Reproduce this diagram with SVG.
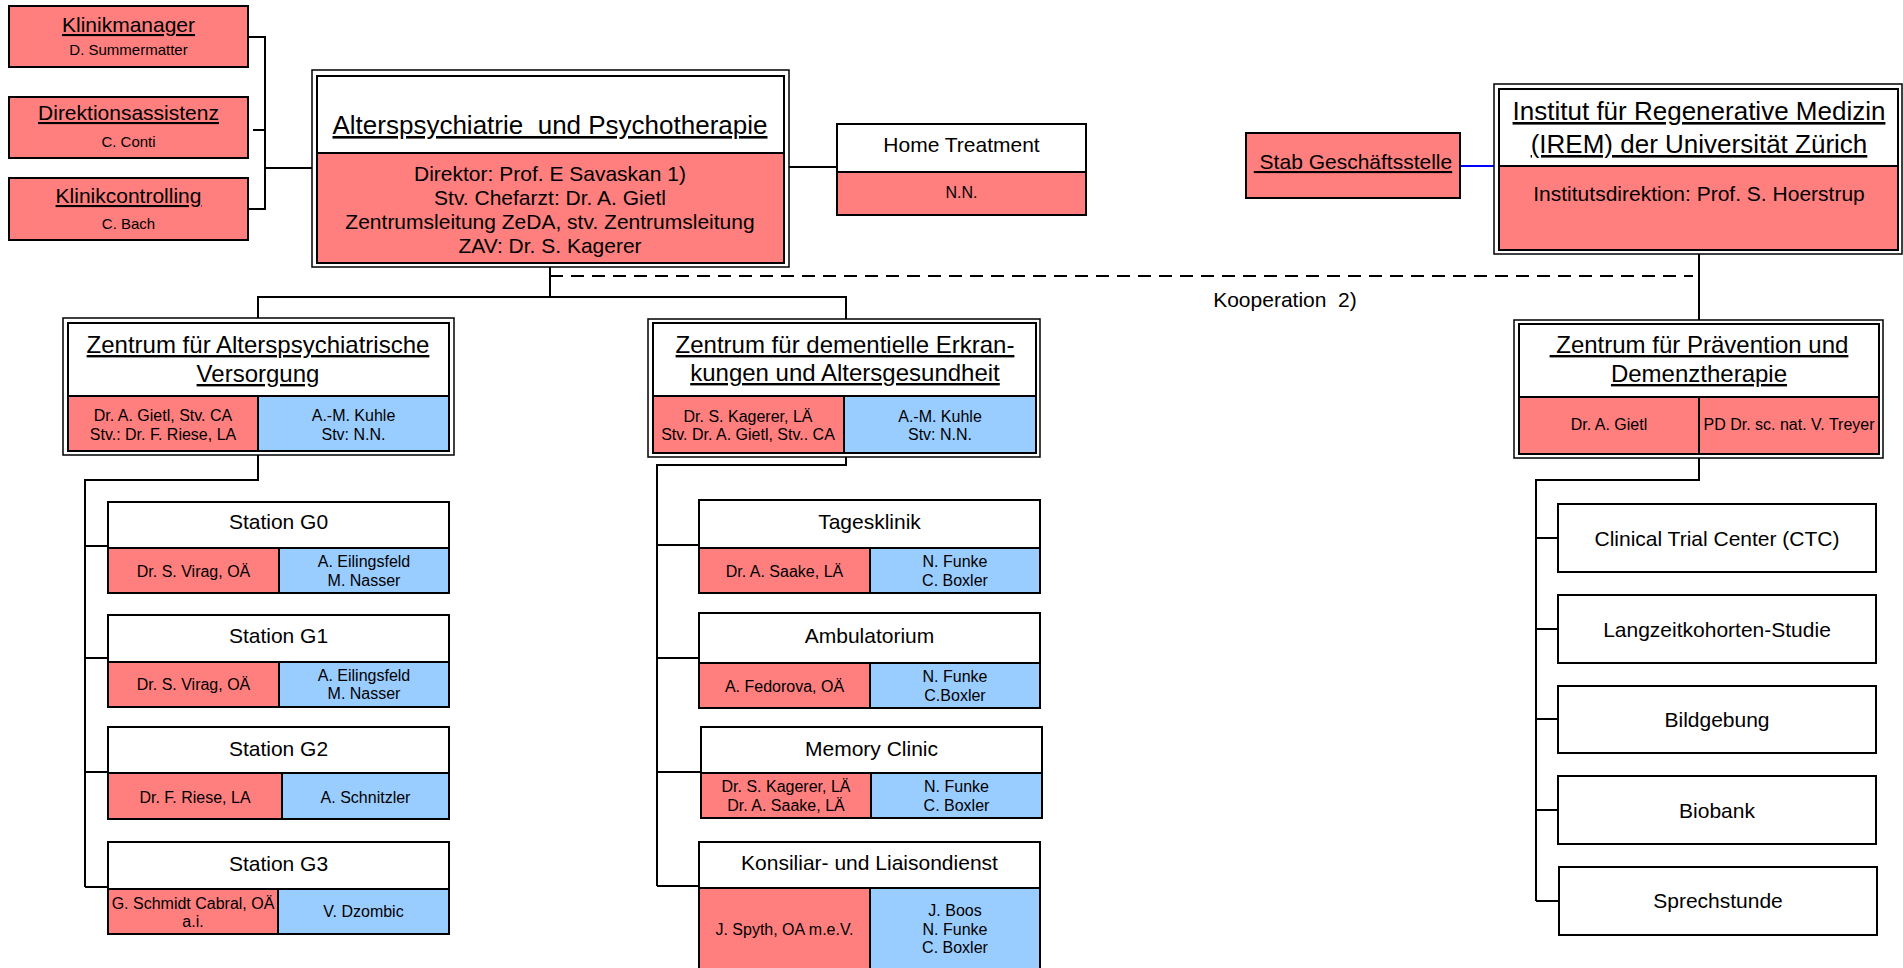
<svg xmlns="http://www.w3.org/2000/svg" width="1903" height="968" viewBox="0 0 1903 968">
<style>
.b{stroke:#000;stroke-width:2}
.r{fill:#FF7F7F}
.bl{fill:#99CCFF}
.w{fill:#fff}
.o{fill:#fff;stroke:#000;stroke-width:1.5}
text{font-family:"Liberation Sans",Arial,sans-serif;fill:#000;text-anchor:middle}
.u{text-decoration:underline}
.f26{font-size:26px}.f24{font-size:24px}.f21{font-size:21px}.f16{font-size:16px}.f15{font-size:15px}
.c{stroke:#000;stroke-width:2;fill:none}
</style>
<rect width="1903" height="968" fill="#fff"/>
<g id="connectors">
<path class="c" d="M248 37H265V209H248M253 130H265M265 168H312"/>
<path class="c" d="M789 167H837"/>
<path class="c" d="M550 267V297M258 318V297H846V319"/>
<path class="c" d="M550 276H1693" stroke-dasharray="13 8"/>
<path d="M1460 166H1494" stroke="#0000FF" stroke-width="2"/>
<path class="c" d="M1699 254V320"/>
<path class="c" d="M258 455V480H85V887M85 546H108M85 658H108M85 772H108M85 887H108"/>
<path class="c" d="M846 457V465H657V886M657 545H699M657 658H699M657 772H701M657 886H699"/>
<path class="c" d="M1699 458V480H1536V901M1536 538H1558M1536 629H1558M1536 719H1558M1536 810H1558M1536 901H1558"/>
</g>
<g id="klinikmanager">
<rect class="b r" x="9" y="6" width="239" height="61"/>
<text class="f21 u" x="128.5" y="32">Klinikmanager</text>
<text class="f15" x="128.5" y="55">D. Summermatter</text>
</g>
<g id="direktionsassistenz">
<rect class="b r" x="9" y="97" width="239" height="61"/>
<text class="f21 u" x="128.5" y="120">Direktionsassistenz</text>
<text class="f15" x="128.5" y="147">C. Conti</text>
</g>
<g id="klinikcontrolling">
<rect class="b r" x="9" y="178" width="239" height="62"/>
<text class="f21 u" x="128.5" y="203">Klinikcontrolling</text>
<text class="f15" x="128.5" y="229">C. Bach</text>
</g>
<g id="main">
<rect class="o" x="312" y="70" width="477" height="197"/>
<rect class="b w" x="317" y="76" width="467" height="77"/>
<rect class="b r" x="317" y="153" width="467" height="110"/>
<text class="f26 u" x="550" y="134" xml:space="preserve">Alterspsychiatrie  und Psychotherapie</text>
<text class="f21" x="550" y="181">Direktor: Prof. E Savaskan 1)</text>
<text class="f21" x="550" y="205">Stv. Chefarzt: Dr. A. Gietl</text>
<text class="f21" x="550" y="229">Zentrumsleitung ZeDA, stv. Zentrumsleitung</text>
<text class="f21" x="550" y="253">ZAV: Dr. S. Kagerer</text>
</g>
<g id="home-treatment">
<rect class="b w" x="837" y="124" width="249" height="48"/>
<rect class="b r" x="837" y="172" width="249" height="43"/>
<text class="f21" x="961.5" y="152">Home Treatment</text>
<text class="f16" x="961.5" y="198">N.N.</text>
</g>
<g id="stab">
<rect class="b r" x="1246" y="133" width="214" height="65"/>
<text class="f21 u" x="1353" y="169" xml:space="preserve"> Stab Geschäftsstelle</text>
</g>
<g id="irem">
<rect class="o" x="1494" y="84" width="408" height="170"/>
<rect class="b w" x="1499" y="89" width="399" height="77"/>
<rect class="b r" x="1499" y="166" width="399" height="84"/>
<text class="f26 u" x="1699" y="120">Institut für Regenerative Medizin</text>
<text class="f26 u" x="1699" y="153">(IREM) der Universität Zürich</text>
<text class="f21" x="1699" y="201">Institutsdirektion: Prof. S. Hoerstrup</text>
</g>
<text class="f21" x="1285" y="307" xml:space="preserve">Kooperation  2)</text>
<g id="zentrum-versorgung">
<rect class="o" x="63" y="318" width="391" height="137"/>
<rect class="b w" x="68" y="323" width="381" height="73"/>
<rect class="b r" x="68" y="396" width="190" height="55"/>
<rect class="b bl" x="258" y="396" width="191" height="55"/>
<text class="f24 u" x="258" y="353">Zentrum für Alterspsychiatrische</text>
<text class="f24 u" x="258" y="382">Versorgung</text>
<text class="f16" x="163" y="421">Dr. A. Gietl, Stv. CA</text>
<text class="f16" x="163" y="440">Stv.: Dr. F. Riese, LA</text>
<text class="f16" x="353.5" y="421">A.-M. Kuhle</text>
<text class="f16" x="353.5" y="440">Stv: N.N.</text>
</g>
<g id="zentrum-demenz">
<rect class="o" x="648" y="319" width="392" height="138"/>
<rect class="b w" x="653" y="323" width="383" height="73"/>
<rect class="b r" x="653" y="396" width="191" height="57"/>
<rect class="b bl" x="844" y="396" width="192" height="57"/>
<text class="f24 u" x="845" y="353">Zentrum für dementielle Erkran-</text>
<text class="f24 u" x="845" y="381">kungen und Altersgesundheit</text>
<text class="f16" x="748" y="422">Dr. S. Kagerer, LÄ</text>
<text class="f16" x="748" y="440">Stv. Dr. A. Gietl, Stv.. CA</text>
<text class="f16" x="940" y="422">A.-M. Kuhle</text>
<text class="f16" x="940" y="440">Stv: N.N.</text>
</g>
<g id="zentrum-praevention">
<rect class="o" x="1514" y="320" width="369" height="138"/>
<rect class="b w" x="1519" y="324" width="360" height="73"/>
<rect class="b r" x="1519" y="397" width="180" height="57"/>
<rect class="b r" x="1699" y="397" width="180" height="57"/>
<text class="f24 u" x="1699" y="353" xml:space="preserve"> Zentrum für Prävention und</text>
<text class="f24 u" x="1699" y="382">Demenztherapie</text>
<text class="f16" x="1609" y="430">Dr. A. Gietl</text>
<text class="f16" x="1789" y="430">PD Dr. sc. nat. V. Treyer</text>
</g>
<g id="station-g0">
<rect class="b w" x="108" y="502" width="341" height="46"/>
<rect class="b r" x="108" y="548" width="171" height="45"/>
<rect class="b bl" x="279" y="548" width="170" height="45"/>
<text class="f21" x="278.5" y="529">Station G0</text>
<text class="f16" x="193.5" y="577">Dr. S. Virag, OÄ</text>
<text class="f16" x="364" y="567">A. Eilingsfeld</text>
<text class="f16" x="364" y="586">M. Nasser</text>
</g>
<g id="station-g1">
<rect class="b w" x="108" y="615" width="341" height="47"/>
<rect class="b r" x="108" y="662" width="171" height="45"/>
<rect class="b bl" x="279" y="662" width="170" height="45"/>
<text class="f21" x="278.5" y="643">Station G1</text>
<text class="f16" x="193.5" y="690">Dr. S. Virag, OÄ</text>
<text class="f16" x="364" y="681">A. Eilingsfeld</text>
<text class="f16" x="364" y="699">M. Nasser</text>
</g>
<g id="station-g2">
<rect class="b w" x="108" y="727" width="341" height="46"/>
<rect class="b r" x="108" y="773" width="174" height="46"/>
<rect class="b bl" x="282" y="773" width="167" height="46"/>
<text class="f21" x="278.5" y="756">Station G2</text>
<text class="f16" x="195" y="803">Dr. F. Riese, LA</text>
<text class="f16" x="365.5" y="803">A. Schnitzler</text>
</g>
<g id="station-g3">
<rect class="b w" x="108" y="842" width="341" height="47"/>
<rect class="b r" x="108" y="889" width="170" height="45"/>
<rect class="b bl" x="278" y="889" width="171" height="45"/>
<text class="f21" x="278.5" y="871">Station G3</text>
<text class="f16" x="193" y="909">G. Schmidt Cabral, OÄ</text>
<text class="f16" x="193" y="927">a.i.</text>
<text class="f16" x="363.5" y="917">V. Dzombic</text>
</g>
<g id="tagesklinik">
<rect class="b w" x="699" y="500" width="341" height="48"/>
<rect class="b r" x="699" y="548" width="171" height="45"/>
<rect class="b bl" x="870" y="548" width="170" height="45"/>
<text class="f21" x="869.5" y="529">Tagesklinik</text>
<text class="f16" x="784.5" y="577">Dr. A. Saake, LÄ</text>
<text class="f16" x="955" y="567">N. Funke</text>
<text class="f16" x="955" y="586">C. Boxler</text>
</g>
<g id="ambulatorium">
<rect class="b w" x="699" y="613" width="341" height="50"/>
<rect class="b r" x="699" y="663" width="171" height="45"/>
<rect class="b bl" x="870" y="663" width="170" height="45"/>
<text class="f21" x="869.5" y="643">Ambulatorium</text>
<text class="f16" x="784.5" y="692">A. Fedorova, OÄ</text>
<text class="f16" x="955" y="682">N. Funke</text>
<text class="f16" x="955" y="701">C.Boxler</text>
</g>
<g id="memory-clinic">
<rect class="b w" x="701" y="727" width="341" height="46"/>
<rect class="b r" x="701" y="773" width="170" height="45"/>
<rect class="b bl" x="871" y="773" width="171" height="45"/>
<text class="f21" x="871.5" y="756">Memory Clinic</text>
<text class="f16" x="786" y="792">Dr. S. Kagerer, LÄ</text>
<text class="f16" x="786" y="811">Dr. A. Saake, LÄ</text>
<text class="f16" x="956.5" y="792">N. Funke</text>
<text class="f16" x="956.5" y="811">C. Boxler</text>
</g>
<g id="konsiliar">
<rect class="b w" x="699" y="842" width="341" height="46"/>
<rect class="b r" x="699" y="888" width="171" height="84"/>
<rect class="b bl" x="870" y="888" width="170" height="84"/>
<text class="f21" x="869.5" y="870">Konsiliar- und Liaisondienst</text>
<text class="f16" x="784.5" y="935">J. Spyth, OA m.e.V.</text>
<text class="f16" x="955" y="916">J. Boos</text>
<text class="f16" x="955" y="935">N. Funke</text>
<text class="f16" x="955" y="953">C. Boxler</text>
</g>
<g id="ctc">
<rect class="b w" x="1558" y="504" width="318" height="68"/>
<text class="f21" x="1717" y="546">Clinical Trial Center (CTC)</text>
</g>
<g id="langzeit">
<rect class="b w" x="1558" y="595" width="318" height="68"/>
<text class="f21" x="1717" y="637">Langzeitkohorten-Studie</text>
</g>
<g id="bildgebung">
<rect class="b w" x="1558" y="686" width="318" height="67"/>
<text class="f21" x="1717" y="727">Bildgebung</text>
</g>
<g id="biobank">
<rect class="b w" x="1558" y="776" width="318" height="68"/>
<text class="f21" x="1717" y="818">Biobank</text>
</g>
<g id="sprechstunde">
<rect class="b w" x="1559" y="867" width="318" height="68"/>
<text class="f21" x="1718" y="908">Sprechstunde</text>
</g>
</svg>
